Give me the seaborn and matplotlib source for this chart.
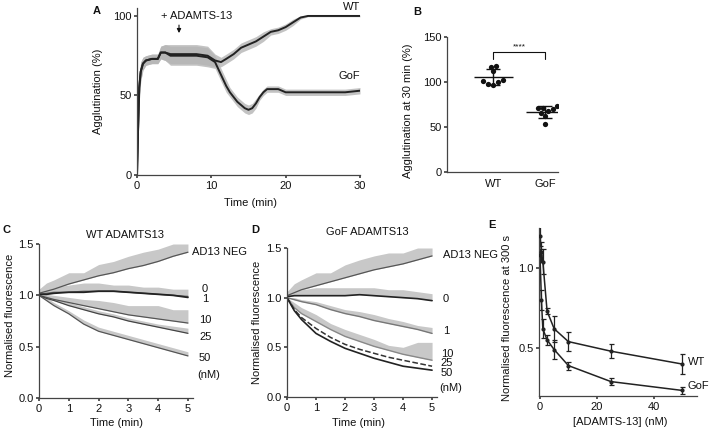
import numpy as np
import pandas as pd
import matplotlib
matplotlib.use('Agg')
import matplotlib.pyplot as plt
import seaborn as sns

# ---------------- data ----------------
# Panel A: agglutination traces (time in min, % agglutination, noise half-width)
a_wt_t = [0, 0.15, 0.3, 0.5, 0.8, 1.2, 2, 2.8, 3.2, 3.8, 4.5, 6, 8, 9.5, 10.5, 11.3, 12, 13, 14, 15, 16, 17, 18, 19, 20, 21, 22, 23, 30]
a_wt_y = [0, 30, 55, 65, 70, 72, 73, 73, 77, 77, 76, 76, 76, 75, 72, 71, 73, 76, 80, 82, 84, 87, 90, 91, 93, 96, 99, 100, 100]
a_wt_n = [0, 12, 9, 6, 4, 3, 3, 3, 4, 5, 6, 6, 6, 6, 4, 3, 3, 3, 3, 3, 3, 3, 2, 2, 2, 2, 1, 0.5, 0.5]
a_gof_t = [0, 0.15, 0.3, 0.5, 0.8, 1.2, 2, 2.8, 3.2, 3.8, 4.5, 6, 8, 9.5, 10.5, 11, 11.5, 12, 12.5, 13, 13.5, 14, 14.5, 15, 15.5, 16, 16.5, 17, 17.5, 18, 19, 20, 22, 24, 26, 28, 30]
a_gof_y = [0, 30, 55, 65, 70, 72, 73, 73, 77, 77, 75, 75, 75, 74, 71, 66, 61, 56, 52, 49, 46, 44, 42, 41, 42, 45, 49, 52, 54, 54, 54, 52, 52, 52, 52, 52, 53]
a_gof_n = [0, 12, 9, 6, 4, 3, 3, 3, 4, 5, 6, 6, 6, 6, 4, 4, 4, 4, 3, 3, 3, 3, 3, 3, 3, 3, 2, 2, 2, 2, 2, 2, 2, 2, 2, 2, 2]

# Panel B: agglutination at 30 min
b_groups = ['WT', 'GoF']
b_wt = [118, 117, 112, 102, 101, 100, 98, 97]
b_gof = [73, 71.5, 71.5, 69.6, 67.8, 66, 62.6, 53]

# Panels C/D: normalised fluorescence traces
cd_t = [0, 0.25, 0.5, 1, 1.5, 2, 2.5, 3, 3.5, 4, 4.5, 5]
c_neg = [1.02, 1.04, 1.06, 1.11, 1.15, 1.19, 1.22, 1.26, 1.29, 1.33, 1.38, 1.42]
c_neg_up = [1.06, 1.12, 1.15, 1.22, 1.22, 1.30, 1.33, 1.38, 1.42, 1.45, 1.50, 1.50]
c_0 = [1.01, 1.02, 1.03, 1.03, 1.04, 1.04, 1.04, 1.03, 1.02, 1.01, 1.00, 0.99]
c_0_up = [1.03, 1.06, 1.08, 1.10, 1.12, 1.12, 1.10, 1.10, 1.08, 1.08, 1.06, 1.06]
c_1 = [1.01, 1.01, 1.02, 1.03, 1.03, 1.04, 1.04, 1.03, 1.02, 1.01, 1.00, 0.98]
c_10 = [1.00, 0.98, 0.96, 0.93, 0.90, 0.87, 0.84, 0.81, 0.79, 0.77, 0.75, 0.73]
c_10_up = [1.02, 1.01, 1.00, 0.98, 0.96, 0.95, 0.93, 0.90, 0.90, 0.90, 0.86, 0.86]
c_25 = [1.00, 0.97, 0.95, 0.90, 0.86, 0.82, 0.79, 0.75, 0.72, 0.69, 0.66, 0.63]
c_25_up = [1.01, 1.00, 0.98, 0.93, 0.89, 0.85, 0.82, 0.78, 0.75, 0.72, 0.70, 0.68]
c_50 = [1.00, 0.95, 0.90, 0.82, 0.72, 0.65, 0.61, 0.57, 0.53, 0.49, 0.45, 0.41]
c_50_up = [1.01, 0.98, 0.93, 0.85, 0.76, 0.69, 0.65, 0.61, 0.57, 0.53, 0.49, 0.45]

d_neg = [1.02, 1.05, 1.08, 1.12, 1.16, 1.20, 1.24, 1.28, 1.31, 1.34, 1.38, 1.42]
d_neg_up = [1.06, 1.14, 1.18, 1.25, 1.25, 1.33, 1.38, 1.42, 1.45, 1.45, 1.50, 1.50]
d_0 = [1.01, 1.02, 1.02, 1.02, 1.02, 1.02, 1.03, 1.02, 1.01, 1.00, 0.99, 0.97]
d_0_up = [1.03, 1.06, 1.08, 1.10, 1.10, 1.10, 1.10, 1.10, 1.08, 1.08, 1.06, 1.04]
d_1 = [1.00, 0.98, 0.96, 0.93, 0.88, 0.84, 0.81, 0.77, 0.74, 0.71, 0.68, 0.64]
d_1_up = [1.00, 1.00, 0.98, 0.96, 0.92, 0.88, 0.86, 0.83, 0.79, 0.76, 0.72, 0.70]
d_10 = [1.00, 0.90, 0.84, 0.76, 0.68, 0.61, 0.56, 0.51, 0.47, 0.43, 0.40, 0.37]
d_10_up = [1.00, 0.95, 0.90, 0.83, 0.74, 0.68, 0.63, 0.58, 0.52, 0.50, 0.55, 0.55]
d_25 = [1.00, 0.88, 0.80, 0.69, 0.60, 0.53, 0.48, 0.44, 0.40, 0.37, 0.34, 0.31]
d_50 = [1.00, 0.87, 0.78, 0.64, 0.56, 0.49, 0.44, 0.39, 0.35, 0.31, 0.29, 0.27]

# Panel E: fluorescence at 300 s vs concentration
e_conc = [0, 0.5, 1, 2.5, 5, 10, 25, 50]
e_wt = [1.20, 1.10, 1.04, 0.73, 0.62, 0.54, 0.48, 0.40]
e_wt_err = [0.06, 0.06, 0.08, 0.02, 0.08, 0.06, 0.045, 0.065]
e_gof = [1.08, 0.80, 0.62, 0.55, 0.49, 0.39, 0.29, 0.235]
e_gof_err = [0.04, 0.06, 0.06, 0.03, 0.06, 0.025, 0.02, 0.02]

# ---------------- style ----------------
sns.set_theme(style='ticks')
plt.rcParams['font.family'] = ['Liberation Sans', 'DejaVu Sans']
FS = 8
plt.rcParams.update({
    'font.size': FS, 'axes.labelsize': FS, 'xtick.labelsize': FS, 'ytick.labelsize': FS,
    'axes.edgecolor': '#444444', 'axes.linewidth': 0.9,
    'xtick.color': '#444444', 'ytick.color': '#444444',
    'xtick.labelcolor': '#111111', 'ytick.labelcolor': '#111111',
    'xtick.major.size': 2.5, 'ytick.major.size': 2.5,
    'xtick.major.pad': 1.5, 'ytick.major.pad': 1.5,
    'text.color': '#111111', 'axes.labelcolor': '#111111',
})

W, H = 709, 433
fig = plt.figure(figsize=(W / 100, H / 100), dpi=100)


def add_ax(l, t, r, b):
    ax = fig.add_axes([l / W, 1 - b / H, (r - l) / W, (b - t) / H])
    sns.despine(ax=ax)
    ax.set_facecolor('white')
    return ax


def label_pos(ax, which, x, y):
    axis = ax.yaxis if which == 'y' else ax.xaxis
    axis.set_label_coords(x / W, 1 - y / H, transform=fig.transFigure)
    axis.label.set_verticalalignment('center')


def panel_letter(s, x, y):
    fig.text(x / W, 1 - y / H, s, fontsize=8, fontweight='bold', ha='center', va='center')


# ---------------- Panel A ----------------
axA = add_ax(137, 8, 360, 175)
for tt, yy, nn in [(a_gof_t, a_gof_y, a_gof_n), (a_wt_t, a_wt_y, a_wt_n)]:
    yy = np.array(yy, float); nn = np.array(nn, float)
    axA.fill_between(tt, yy - nn, yy + nn, color='#b5b5b5', lw=0, alpha=0.8)
    sns.lineplot(x=tt, y=yy, ax=axA, color='#222222', lw=1.4, estimator=None)
axA.set_xlim(0, 30)
axA.set_ylim(0, 105)
axA.set_xticks([0, 10, 20, 30])
axA.set_yticks([0, 50, 100])
axA.set_xlabel('Time (min)')
axA.set_ylabel('Agglutination (%)')
label_pos(axA, 'y', 98, 91)
label_pos(axA, 'x', 250, 203)
axA.text(3.2, 100, '+ ADAMTS-13', ha='left', va='center', fontsize=FS)
axA.annotate('', xy=(5.65, 87.5), xytext=(5.65, 96),
             arrowprops=dict(arrowstyle='-|>', color='#111111', lw=0.8, mutation_scale=6))
axA.text(30, 105.5, 'WT', ha='right', va='center', fontsize=FS, clip_on=False)
axA.text(30, 62, 'GoF', ha='right', va='center', fontsize=FS)
panel_letter('A', 97, 11)

# ---------------- Panel B ----------------
axB = add_ax(447, 37, 558, 172)
dfB = pd.DataFrame({'group': ['WT'] * len(b_wt) + ['GoF'] * len(b_gof),
                    'value': b_wt + b_gof})
sns.swarmplot(data=dfB, x='group', y='value', order=b_groups, ax=axB,
              color='#111111', size=3.8)
for i, vals in enumerate([b_wt, b_gof]):
    m = np.mean(vals); s = np.std(vals, ddof=1)
    axB.hlines(m, i - 0.37, i + 0.37, color='#111111', lw=1.0)
    axB.errorbar(i, m, yerr=s, color='#111111', lw=1.0, capsize=5, capthick=1.0)
axB.plot([0, 0, 1, 1], [126, 133, 133, 126], color='#111111', lw=0.8)
axB.text(0.5, 135, '****', ha='center', va='bottom', fontsize=6)
axB.set_xlim(-0.9, 1.25)
axB.set_ylim(0, 150)
axB.set_yticks([0, 50, 100, 150])
axB.set_xlabel('')
axB.set_ylabel('Agglutination at 30 min (%)')
label_pos(axB, 'y', 408, 111)
axB.tick_params(axis='x', length=0, pad=5)
panel_letter('B', 417, 12)


# ---------------- Panels C & D ----------------
def fl_panel(ax, curves, title, title_xy, labels):
    for vals, up, col, ls, lw in curves:
        if up is not None:
            ax.fill_between(cd_t, vals, up, color='#c8c8c8', lw=0)
        sns.lineplot(x=cd_t, y=vals, ax=ax, color=col, lw=lw, linestyle=ls, estimator=None)
    ax.set_xlim(0, 5.17)
    ax.set_ylim(0, 1.5)
    ax.set_xticks([0, 1, 2, 3, 4, 5])
    ax.set_yticks([0.0, 0.5, 1.0, 1.5])
    ax.set_yticklabels(['0.0', '0.5', '1.0', '1.5'])
    ax.set_xlabel('Time (min)')
    ax.set_ylabel('Normalised fluorescence')
    ax.text(title_xy[0], title_xy[1], title, ha='center', va='center', fontsize=FS, clip_on=False)
    for s, x, y in labels:
        ax.text(x, y, s, ha='left', va='center', fontsize=FS, clip_on=False)


axC = add_ax(39, 244, 193, 398)
fl_panel(axC,
         [(c_neg, c_neg_up, '#555555', '-', 0.9),
          (c_0, c_0_up, '#666666', '-', 0.9),
          (c_1, None, '#222222', '-', 1.3),
          (c_10, c_10_up, '#555555', '-', 0.9),
          (c_25, c_25_up, '#444444', '-', 0.9),
          (c_50, c_50_up, '#555555', '-', 0.9)],
         'WT ADAMTS13', (2.9, 1.59),
         [('AD13 NEG', 5.13, 1.42), ('0', 5.47, 1.06), ('1', 5.47, 0.96),
          ('10', 5.37, 0.76), ('25', 5.37, 0.59), ('50', 5.37, 0.39), ('(nM)', 5.3, 0.22)])
label_pos(axC, 'y', 10, 315)
label_pos(axC, 'x', 117, 423)
panel_letter('C', 6, 230)

axD = add_ax(287, 248, 437, 397)
fl_panel(axD,
         [(d_neg, d_neg_up, '#555555', '-', 0.9),
          (d_0, d_0_up, '#222222', '-', 1.2),
          (d_1, d_1_up, '#777777', '-', 1.0),
          (d_10, d_10_up, '#888888', '-', 1.0),
          (d_25, None, '#333333', '--', 1.1),
          (d_50, None, '#222222', '-', 1.2)],
         'GoF ADAMTS13', (2.76, 1.66),
         [('AD13 NEG', 5.38, 1.43), ('0', 5.38, 0.99), ('1', 5.38, 0.66),
          ('10', 5.3, 0.43), ('25', 5.3, 0.34), ('50', 5.3, 0.24), ('(nM)', 5.24, 0.09)])
label_pos(axD, 'y', 257, 322)
label_pos(axD, 'x', 358, 423)
panel_letter('D', 255, 230)

# ---------------- Panel E ----------------
axE = add_ax(539, 228, 697, 396)
for vals, err in [(e_wt, e_wt_err), (e_gof, e_gof_err)]:
    sns.lineplot(x=e_conc, y=vals, ax=axE, color='#222222', lw=1.1, estimator=None)
    axE.errorbar(e_conc, vals, yerr=err, fmt='none', ecolor='#222222', elinewidth=0.9,
                 capsize=1.8, capthick=0.9)
    axE.scatter(e_conc, vals, s=4, color='#222222', zorder=3)
axE.set_xlim(-0.35, 55.3)
axE.set_ylim(0.2, 1.25)
axE.set_xticks([0, 20, 40])
axE.set_yticks([0.5, 1.0])
axE.set_xlabel('[ADAMTS-13] (nM)')
axE.set_ylabel('Normalised fluorescence at 300 s')
label_pos(axE, 'y', 507, 318)
label_pos(axE, 'x', 620, 422)
axE.text(52.1, 0.41, 'WT', ha='left', va='center', fontsize=FS, clip_on=False)
axE.text(51.8, 0.26, 'GoF', ha='left', va='center', fontsize=FS, clip_on=False)
panel_letter('E', 492, 225)

fig.savefig('out.png', dpi=100, facecolor='white')
